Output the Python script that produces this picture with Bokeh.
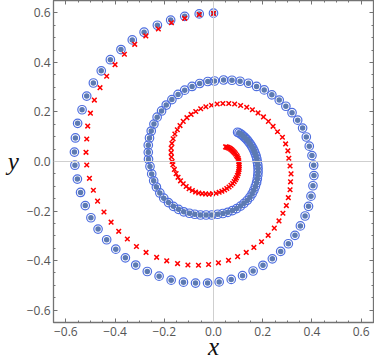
from bokeh.plotting import figure
from bokeh.models import FixedTicker, LinearAxis, Span, Range1d
from bokeh.embed import file_html
from bokeh.resources import INLINE

# ---- data ----
blue_x = [0.098, 0.104, 0.111, 0.117, 0.124, 0.130, 0.137, 0.143, 0.149, 0.155, 0.160, 0.165, 0.169, 0.173, 0.176,
          0.178, 0.180, 0.181, 0.181, 0.180, 0.178, 0.175, 0.170, 0.164, 0.157, 0.148, 0.137, 0.124, 0.110, 0.094, 0.077, 0.058, 0.038,
          0.017, -0.007, -0.030, -0.053, -0.076, -0.098, -0.121, -0.142, -0.163, -0.183, -0.202, -0.218, -0.232, -0.243, -0.251, -0.258,
          -0.264, -0.265, -0.265, -0.260, -0.253, -0.242, -0.229, -0.211, -0.192, -0.169, -0.144, -0.117, -0.087, -0.056, -0.023,
          0.004, 0.041, 0.075, 0.108, 0.142, 0.175, 0.206, 0.237, 0.267, 0.294, 0.319, 0.342, 0.362, 0.377, 0.389, 0.400,
          0.407, 0.408, 0.404, 0.396, 0.386, 0.372, 0.353, 0.331, 0.304, 0.273, 0.239, 0.201, 0.161, 0.118, 0.072,
          0.023, -0.024, -0.073, -0.122, -0.172, -0.221, -0.269, -0.316, -0.358, -0.397, -0.434, -0.469, -0.498, -0.521, -0.540, -0.553,
          -0.563, -0.565, -0.561, -0.552, -0.534, -0.515, -0.488, -0.456, -0.419, -0.376, -0.330, -0.282, -0.228, -0.174, -0.117, -0.058, 0.000]
blue_y = [0.118, 0.115, 0.111, 0.106, 0.100, 0.094, 0.087, 0.079, 0.071, 0.062, 0.053, 0.043, 0.033, 0.022, 0.010,
          -0.002, -0.015, -0.028, -0.042, -0.056, -0.071, -0.086, -0.101, -0.116, -0.130, -0.144, -0.157, -0.169, -0.180, -0.190, -0.198, -0.205, -0.210,
          -0.213, -0.216, -0.216, -0.216, -0.213, -0.209, -0.203, -0.193, -0.181, -0.166, -0.148, -0.127, -0.103, -0.078, -0.050, -0.020,
          0.009, 0.037, 0.066, 0.095, 0.123, 0.151, 0.179, 0.204, 0.228, 0.250, 0.271, 0.288, 0.303, 0.315, 0.323,
          0.325, 0.329, 0.328, 0.324, 0.316, 0.303, 0.289, 0.269, 0.248, 0.223, 0.197, 0.167, 0.135, 0.099, 0.062, 0.024,
          -0.015, -0.057, -0.098, -0.140, -0.181, -0.220, -0.260, -0.298, -0.332, -0.363, -0.393, -0.419, -0.442, -0.461, -0.476,
          -0.486, -0.491, -0.491, -0.487, -0.479, -0.463, -0.444, -0.418, -0.389, -0.354, -0.316, -0.273, -0.227, -0.178, -0.125, -0.071,
          -0.015, 0.038, 0.095, 0.154, 0.209, 0.264, 0.317, 0.366, 0.411, 0.452, 0.491, 0.522, 0.550, 0.571, 0.586, 0.596, 0.599]

red_x = [0.049, 0.053, 0.057, 0.061, 0.066, 0.070, 0.074, 0.078, 0.082, 0.086, 0.090, 0.094, 0.097, 0.100, 0.102,
         0.103, 0.104, 0.104, 0.104, 0.104, 0.102, 0.100, 0.097, 0.093, 0.089, 0.084, 0.078, 0.071, 0.063, 0.054, 0.045, 0.034, 0.023,
         0.010, -0.004, -0.018, -0.032, -0.046, -0.060, -0.073, -0.086, -0.099, -0.111, -0.123, -0.134, -0.144, -0.152, -0.159, -0.165,
         -0.168, -0.171, -0.172, -0.172, -0.169, -0.164, -0.157, -0.147, -0.136, -0.123, -0.108, -0.091, -0.072, -0.052, -0.031,
         -0.008, 0.015, 0.038, 0.062, 0.086, 0.110, 0.135, 0.158, 0.181, 0.203, 0.223, 0.242, 0.260, 0.280, 0.293, 0.302,
         0.306, 0.311, 0.315, 0.313, 0.311, 0.304, 0.296, 0.282, 0.266, 0.247, 0.222, 0.195, 0.164, 0.133, 0.098, 0.061, 0.020,
         -0.020, -0.061, -0.104, -0.146, -0.190, -0.231, -0.274, -0.313, -0.350, -0.385, -0.416, -0.445, -0.471, -0.488, -0.504,
         -0.515, -0.518, -0.515, -0.511, -0.500, -0.484, -0.461, -0.434, -0.400, -0.362, -0.320, -0.275, -0.224, -0.171, -0.117, -0.058, 0.000]
red_y = [0.059, 0.058, 0.057, 0.055, 0.053, 0.050, 0.047, 0.043, 0.039, 0.035, 0.030, 0.024, 0.019, 0.013, 0.006,
         -0.001, -0.009, -0.016, -0.024, -0.032, -0.041, -0.049, -0.057, -0.066, -0.073, -0.081, -0.089, -0.096, -0.103, -0.109, -0.115, -0.120, -0.124,
         -0.128, -0.130, -0.132, -0.131, -0.130, -0.127, -0.123, -0.117, -0.110, -0.101, -0.090, -0.078, -0.064, -0.049, -0.032, -0.013,
         0.000, 0.018, 0.036, 0.054, 0.073, 0.092, 0.111, 0.128, 0.145, 0.162, 0.177, 0.190, 0.202, 0.213, 0.221,
         0.227, 0.232, 0.234, 0.234, 0.232, 0.226, 0.219, 0.209, 0.196, 0.180, 0.162, 0.142, 0.120, 0.098, 0.071, 0.043,
         0.013, -0.018, -0.050, -0.082, -0.114, -0.146, -0.178, -0.209, -0.240, -0.269, -0.298, -0.324, -0.347, -0.367, -0.384, -0.399, -0.409,
         -0.416, -0.419, -0.418, -0.412, -0.401, -0.387, -0.367, -0.343, -0.313, -0.282, -0.245, -0.204, -0.160, -0.116, -0.068,
         -0.014, 0.037, 0.091, 0.143, 0.195, 0.248, 0.298, 0.344, 0.391, 0.433, 0.473, 0.507, 0.535, 0.560, 0.578, 0.593, 0.598]

tick_vals = [-0.6, -0.4, -0.2, 0.0, 0.2, 0.4, 0.6]
tick_labels = ["\u22120.6", "\u22120.4", "\u22120.2", "0.0", "0.2", "0.4", "0.6"]
minor_vals = [-0.65, -0.55, -0.5, -0.45, -0.35, -0.3, -0.25, -0.15, -0.1, -0.05,
              0.05, 0.1, 0.15, 0.25, 0.3, 0.35, 0.45, 0.5, 0.55, 0.65]
x_label = "x"
y_label = "y"

FRAME = "#737373"
LABEL = "#555555"

p = figure(width=374, height=362, x_range=Range1d(-0.65, 0.65), y_range=Range1d(-0.65, 0.65),
           output_backend="svg", toolbar_location=None,
           min_border_left=53, min_border_right=1, min_border_top=0, min_border_bottom=0)
p.grid.visible = False
p.outline_line_color = FRAME
p.outline_line_width = 1.3
p.background_fill_color = "white"
p.border_fill_color = "white"

overrides = dict(zip(tick_vals, tick_labels))
blank = {v: "" for v in tick_vals}

def style_axis(ax, show_labels):
    ax.ticker = FixedTicker(ticks=tick_vals, minor_ticks=minor_vals)
    ax.axis_line_color = None
    ax.major_tick_in = 4
    ax.major_tick_out = 0
    ax.minor_tick_in = 2
    ax.minor_tick_out = 0
    ax.major_tick_line_color = FRAME
    ax.minor_tick_line_color = FRAME
    ax.major_tick_line_width = 1
    ax.minor_tick_line_width = 1
    if show_labels:
        ax.major_label_overrides = overrides
        ax.major_label_text_font = "Open Sans"
        ax.major_label_text_font_size = "12px"
        ax.major_label_text_color = LABEL
        ax.major_label_standoff = 4
        ax.axis_label_text_font = "Liberation Serif"
        ax.axis_label_text_font_style = "italic"
        ax.axis_label_text_font_size = "25px"
        ax.axis_label_text_color = "#111111"
    else:
        ax.major_label_overrides = blank
        ax.major_label_text_font_size = "1px"
        ax.major_label_standoff = 0

xa = p.xaxis[0]
ya = p.yaxis[0]
style_axis(xa, True)
style_axis(ya, True)
xa.axis_label = x_label
xa.axis_label_standoff = -6
ya.axis_label = y_label
ya.axis_label_orientation = "horizontal"
ya.major_label_standoff = 3
ya.axis_label_standoff = 5

top_ax = LinearAxis()
right_ax = LinearAxis()
style_axis(top_ax, False)
style_axis(right_ax, False)
p.add_layout(top_ax, "above")
p.add_layout(right_ax, "right")

p.add_layout(Span(location=0, dimension="width", line_color="#cfcfcf", line_width=1))
p.add_layout(Span(location=0, dimension="height", line_color="#cfcfcf", line_width=1))

p.scatter(blue_x, blue_y, marker="circle", size=8.5, fill_color=None, line_color="#4f6fe0", line_width=1.2)
p.scatter(blue_x[1:], blue_y[1:], marker="circle", size=5.5, fill_color="#5c7ab2", line_color=None)
p.scatter(red_x, red_y, marker="x", size=6.5, line_color="#ff0000", line_width=1.5)

open("out.html", "w").write(file_html(p, INLINE))
